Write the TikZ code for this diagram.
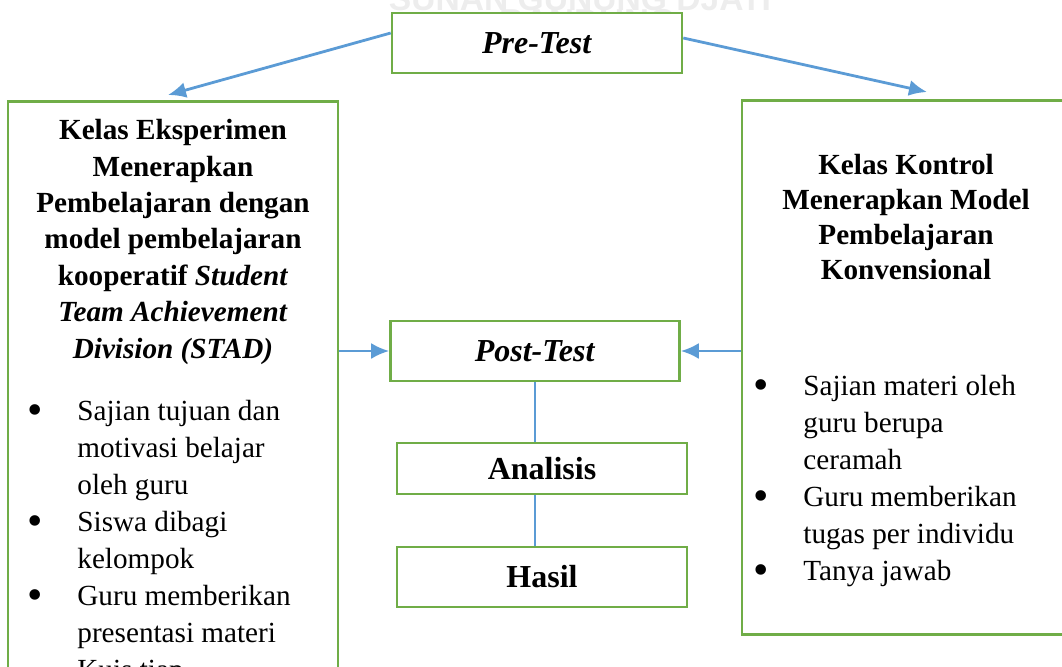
\documentclass[tikz,border=0pt]{standalone}
\usepackage{fontspec}
\setmainfont{Liberation Serif}
\newfontfamily\wmfont{Liberation Sans}
\usetikzlibrary{arrows.meta, positioning}

\definecolor{hijau}{HTML}{70AD47}
\definecolor{biru}{HTML}{5B9BD5}
\tikzset{
  kotak/.style={draw=hijau, line width=1.3pt, fill=white, inner sep=0pt},
  panah/.style={draw=biru, line width=1.4pt, -{Latex[length=9pt,width=8pt]}},
  garis/.style={draw=biru, line width=0.6pt},
  judul/.style={font=\bfseries\fontsize{14.6}{18.2}\selectfont, align=center, anchor=base, inner sep=0pt},
  daftar/.style={font=\fontsize{14.6}{18.5}\selectfont, align=left, anchor=base west, inner sep=0pt},
  kecil/.style={font=\bfseries\fontsize{16}{19}\selectfont},
  tanda/.style={text=black!7, font=\wmfont\bfseries, anchor=base, inner sep=0pt}
}
\newcommand{\butir}{\makebox[25pt][l]{\raisebox{-2.3pt}{\fontsize{22}{22}\selectfont\textbullet}}}
\newcommand{\lanjut}{\hspace*{25pt}}

\begin{document}
\begin{tikzpicture}[x=0.5pt, y=-0.5pt]
\useasboundingbox (0,0) rectangle (1062,666);
\clip (0,0) rectangle (1062,666);

\node[tanda, font=\wmfont\bfseries\fontsize{16.8}{17}\selectfont] (wm1) at (580,10) {SUNAN GUNUNG DJATI}; % watermark
\node[tanda, font=\wmfont\bfseries\fontsize{17.3}{18}\selectfont] (wm2) at (588,33) {BANDUNG};

\node[kotak, kecil, minimum width=145pt, minimum height=30pt] (pre) at (537,43) {\textit{Pre-Test}};
\node[kotak, minimum width=165pt, minimum height=300pt, anchor=north] (eks) at (173,100) {};
\node[kotak, minimum width=164pt, minimum height=267pt, anchor=north] (ktrl) at (906,99) {};
\node[kotak, kecil, minimum width=144.5pt, minimum height=30pt] (post) at (535,351) {\textit{Post-Test}};
\node[kotak, kecil, minimum width=145pt, minimum height=25.5pt] (ana) at (542,468.5) {Analisis};
\node[kotak, kecil, minimum width=145pt, minimum height=30pt] (has) at (542,577) {Hasil};

% isi kelas eksperimen (base = baris terakhir)
\node[judul] (j1) at (173,358) {Kelas Eksperimen\\ Menerapkan\\ Pembelajaran dengan\\ model pembelajaran\\ kooperatif \textit{Student}\\ \textit{Team Achievement}\\ \textit{Division (STAD)}};
\node[daftar] (d1) at (27,679) {\butir Sajian tujuan dan\\ \lanjut motivasi belajar\\ \lanjut oleh guru\\ \butir Siswa dibagi\\ \lanjut kelompok\\ \butir Guru memberikan\\ \lanjut presentasi materi\\ \lanjut Kuis tiap};

% isi kelas kontrol
\node[judul, font=\bfseries\fontsize{14.6}{17.5}\selectfont] (j2) at (906,279) {Kelas Kontrol\\ Menerapkan Model\\ Pembelajaran\\ Konvensional};
\node[daftar] (d2) at (753,580) {\butir Sajian materi oleh\\ \lanjut guru berupa\\ \lanjut ceramah\\ \butir Guru memberikan\\ \lanjut tugas per individu\\ \butir Tanya jawab};

\draw[panah] ([yshift=5pt]pre.west) -- ([xshift=-2.5pt,yshift=2.5pt]eks.north);
\draw[panah] ([yshift=2.5pt]pre.east) -- ([xshift=10.5pt,yshift=3.5pt]ktrl.north);
\draw[panah] (eks.east |- post.west) -- (post.west);
\draw[panah] (ktrl.west |- post.east) -- (post.east);
\draw[garis] (post.south) -- (post.south |- ana.north);
\draw[garis] (ana.south -| post.south) -- (has.north -| post.south);

\end{tikzpicture}
\end{document}
